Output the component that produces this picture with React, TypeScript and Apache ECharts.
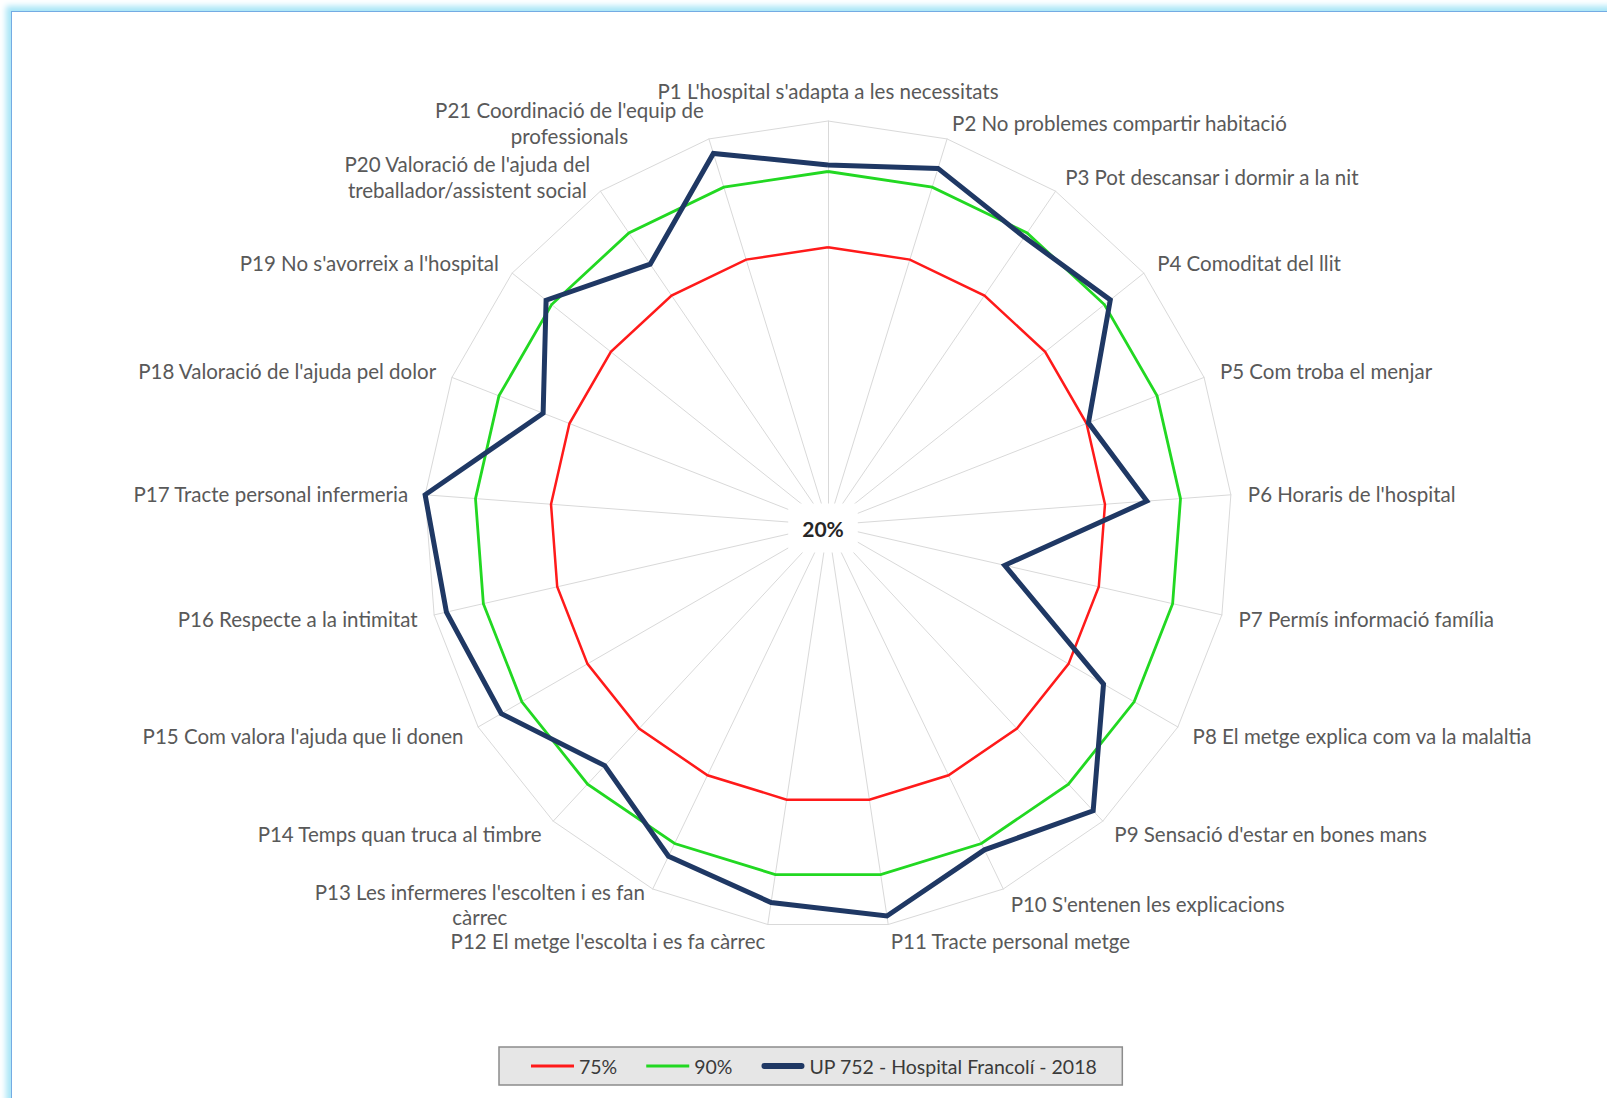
import React, { useEffect, useRef } from "react";
import * as echarts from "echarts";

// Survey questions, in clockwise order starting at the top.
const questions: string[] = [
  "P1 L'hospital s'adapta a les necessitats",
  "P2 No problemes compartir habitació",
  "P3 Pot descansar i dormir a la nit",
  "P4 Comoditat del llit",
  "P5 Com troba el menjar",
  "P6 Horaris de l'hospital",
  "P7 Permís informació família",
  "P8 El metge explica com va la malaltia",
  "P9 Sensació d'estar en bones mans",
  "P10 S'entenen les explicacions",
  "P11 Tracte personal metge",
  "P12 El metge l'escolta i es fa càrrec",
  "P13 Les infermeres l'escolten i es fan\ncàrrec",
  "P14 Temps quan truca al timbre",
  "P15 Com valora l'ajuda que li donen",
  "P16 Respecte a la intimitat",
  "P17 Tracte personal infermeria",
  "P18 Valoració de l'ajuda pel dolor",
  "P19 No s'avorreix a l'hospital",
  "P20 Valoració de l'ajuda del\ntreballador/assistent social",
  "P21 Coordinació de l'equip de\nprofessionals",
];

const seriesNames = ["75%", "90%", "UP 752 - Hospital Francolí - 2018"];

// Reference percentile lines (%)
const p75: number[] = [75, 75, 75, 75, 75, 75, 75, 75, 75, 75, 75, 75, 75, 75, 75, 75, 75, 75, 75, 75, 75];
const p90: number[] = [90, 90, 90, 90, 90, 90, 90, 90, 90, 90, 90, 90, 90, 90, 90, 90, 90, 90, 90, 90, 90];
// Hospital results 2018 (%)
const hospital: number[] = [
  91.3, 93.9, 89.0, 91.5, 75.4, 83.3, 55.9, 83.0, 97.2, 91.4, 98.3,
  95.6, 92.8, 85.0, 94.7, 97.5, 100, 80.6, 91.4, 82.5, 97.0,
];

const axisMin = 20;
const axisMax = 100;
const centerLabel = "20%";

const colors = ["#ff1a1a", "#22d822", "#1f3864"];
const widths = [2.5, 2.8, 5];

const LABEL_FONT_SIZE = 20.5;
const LABEL_LINE_HEIGHT = 25.6;
const LABEL_FONT_FAMILY = "Lato";

function measure(text: string, font: string): number {
  const ctx = document.createElement("canvas").getContext("2d");
  if (!ctx) return text.length * 9;
  ctx.font = font;
  return ctx.measureText(text).width;
}

export default function App() {
  const ref = useRef<HTMLDivElement>(null);

  useEffect(() => {
    if (!ref.current) return;
    const chart = echarts.init(ref.current, undefined, { renderer: "svg" });

    const n = questions.length;
    // ECharts lays indicators out counter-clockwise; reverse all but the first
    const order = [0, ...Array.from({ length: n - 1 }, (_, k) => n - 1 - k)];
    const reorder = (arr: number[]) => order.map((i) => arr[i]);

    // Two-line names keep their lines centred on each other
    const labelFont = `${LABEL_FONT_SIZE}px ${LABEL_FONT_FAMILY}`;
    const rich: Record<string, any> = {};
    const keyFor: Record<string, string> = {};
    questions.forEach((q, i) => {
      if (q.includes("\n")) {
        const w = Math.ceil(Math.max(...q.split("\n").map((l) => measure(l, labelFont))));
        const key = "m" + i;
        keyFor[q] = key;
        rich[key] = {
          width: w,
          align: "center",
          fontSize: LABEL_FONT_SIZE,
          fontFamily: LABEL_FONT_FAMILY,
          color: "#595959",
          lineHeight: LABEL_LINE_HEIGHT,
        };
      }
    });

    const option: any = {
      animation: false,
      backgroundColor: "transparent",
      radar: {
        center: [828, 525],
        radius: 404,
        startAngle: 90,
        splitNumber: 1,
        shape: "polygon",
        nameGap: 17,
        indicator: order.map((i) => ({ name: questions[i], min: axisMin, max: axisMax })),
        axisName: {
          color: "#595959",
          fontSize: LABEL_FONT_SIZE,
          fontFamily: LABEL_FONT_FAMILY,
          lineHeight: LABEL_LINE_HEIGHT,
          formatter: (name: string) => {
            const key = keyFor[name];
            if (!key) return name;
            return name
              .split("\n")
              .map((l) => `{${key}|${l}}`)
              .join("\n");
          },
          rich,
        },
        axisLine: { lineStyle: { color: "#d9d9d9", width: 1 } },
        splitLine: { lineStyle: { color: "#d9d9d9", width: 1 } },
        splitArea: { show: false },
        axisTick: { show: false },
        axisLabel: { show: false },
      },
      legend: {
        left: 499,
        top: 1047,
        orient: "horizontal",
        backgroundColor: "#e6e6e6",
        borderColor: "#8c8c8c",
        borderWidth: 1.5,
        borderRadius: 0,
        padding: [9, 25, 9, 32],
        itemWidth: 43,
        itemHeight: 6,
        itemGap: 29,
        textStyle: { color: "#3a3a3a", fontSize: 19.5, fontFamily: LABEL_FONT_FAMILY },
        data: [
          { name: seriesNames[0], icon: "path://M0,1.5H44V4.5H0Z" },
          { name: seriesNames[1], icon: "path://M0,1.5H44V4.5H0Z" },
          { name: seriesNames[2], icon: "path://M3,0H41A3,3,0,0,1,41,6H3A3,3,0,0,1,3,0Z" },
        ],
      },
      graphic: [
        {
          type: "text",
          x: 823,
          y: 528,
          z: 100,
          style: {
            text: centerLabel,
            fontSize: 21,
            fontWeight: "bold",
            fontFamily: LABEL_FONT_FAMILY,
            fill: "#262626",
            align: "center",
            verticalAlign: "middle",
            backgroundColor: "#ffffff",
            padding: [14, 14],
          },
        },
      ],
      series: [
        {
          type: "radar",
          symbol: "none",
          data: [p75, p90, hospital].map((vals, k) => ({
            name: seriesNames[k],
            value: reorder(vals),
            itemStyle: { color: colors[k] },
            lineStyle: { color: colors[k], width: widths[k], join: "miter" },
          })),
        },
      ],
    };

    chart.setOption(option);
    return () => chart.dispose();
  }, []);

  return (
    <div
      style={{
        position: "fixed",
        left: 0,
        top: 0,
        width: 1607,
        height: 1098,
        background: "#ffffff",
        overflow: "hidden",
      }}
    >
      <div
        style={{
          position: "absolute",
          left: 11,
          top: 11,
          width: 1700,
          height: 1200,
          borderLeft: "1.5px solid #74abe3",
          borderTop: "1.5px solid #74abe3",
          boxShadow: "0 0 6px 5px #a9e6f7",
        }}
      />
      <div ref={ref} style={{ position: "absolute", left: 0, top: 0, width: 1607, height: 1098 }} />
    </div>
  );
}
